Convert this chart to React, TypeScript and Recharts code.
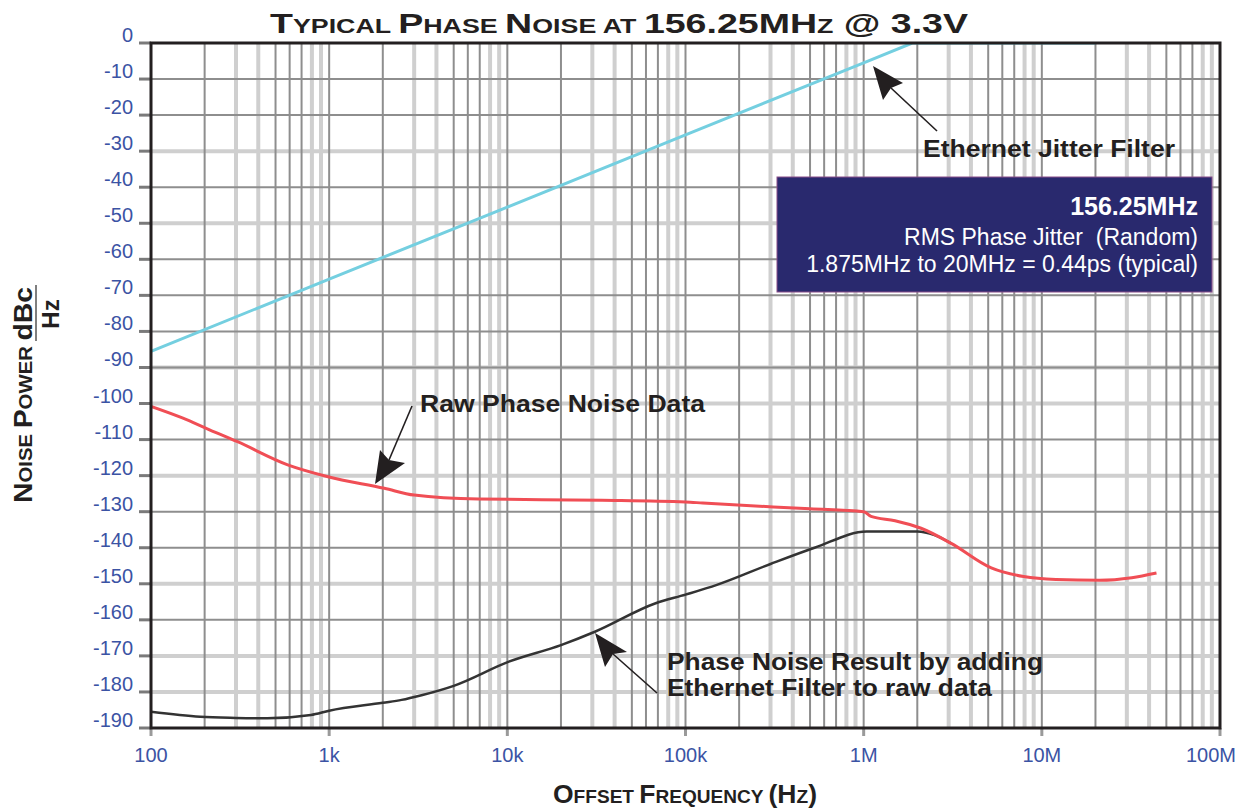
import React from 'react';
import { LineChart, Line, XAxis, YAxis, CartesianGrid } from 'recharts';

// axis ticks
const decadeFreqs = [100, 1000, 10000, 100000, 1000000, 10000000, 100000000];
const decadeLabels = ['100', '1k', '10k', '100k', '1M', '10M', '100M'];
const dbTicks = [0, -10, -20, -30, -40, -50, -60, -70, -80, -90, -100, -110, -120, -130, -140, -150, -160, -170, -180, -190];

// grid styling (dark thin lines vs. light wide lines)
const darkSteps = [1, 2, 5, 6, 7];
const lightSteps = [3, 4, 8, 9];
const darkDb = [-10, -20, -40, -60, -70, -80, -90, -110, -130, -140, -160];
const lightDb = [-30, -50, -90, -100, -120, -150, -170, -180];

// Ethernet jitter filter
const filterFreq = [100, 1000, 10000, 100000, 1000000, 1875000, 20000000];
const filterDb = [-85.5, -65.5, -45.5, -25.5, -5.5, 0, 0];

// raw phase noise
const rawFreq = [100, 150, 207, 306, 585, 986, 2040, 3000, 6900, 34000, 100000, 125000, 500000, 1000000, 1100000, 1500000, 2100000, 3100000, 5200000, 7900000, 12000000, 21000000, 32000000, 44000000];
const rawDb = [-100.8, -104, -107, -110.6, -117, -120.3, -123.5, -125.4, -126.5, -126.8, -127.3, -127.6, -129.2, -130, -131.3, -132.5, -134.6, -138.8, -145.6, -148, -148.8, -149, -148.3, -147];

// raw data + filter
const resultFreq = [100, 189, 300, 450, 790, 1000, 2000, 2550, 3300, 5000, 10200, 20000, 31000, 68000, 100000, 150000, 300000, 530000, 1040000, 2000000, 2500000, 3100000];
const resultDb = [-185.5, -186.9, -187.2, -187.3, -186.4, -185.2, -183, -182.2, -180.9, -178.3, -171.6, -167, -163.3, -155.4, -153, -150.3, -144.5, -140, -135.5, -135.5, -136.5, -138.8];

const toPoints = (fs: number[], ds: number[]) => fs.map((f, i) => ({ f, db: ds[i] }));
const filterData = toPoints(filterFreq, filterDb);
const rawData = toPoints(rawFreq, rawDb);
const resultData = toPoints(resultFreq, resultDb);

const gridFreqs = (steps: number[]) =>
  decadeFreqs.slice(0, -1).flatMap((d) => steps.map((s) => d * s)).concat(steps.includes(1) ? [100000000] : []);
const darkFreqs = gridFreqs(darkSteps);
const lightFreqs = gridFreqs(lightSteps);

const FONT = "'Liberation Sans', Arial, Helvetica, sans-serif";
const BLUE = '#3b53a4';
const INK = '#231f20';
const W = 1243;
const H = 812;

const YTick = (props: any) => {
  const { x, y, payload } = props;
  return (
    <text x={x} y={y - 1} textAnchor="end" fill={BLUE} fontSize={20} fontFamily={FONT}>
      {payload.value}
    </text>
  );
};

const XTick = (props: any) => {
  const { x, y, payload } = props;
  const i = decadeFreqs.indexOf(payload.value);
  const last = i === decadeFreqs.length - 1;
  return (
    <text x={last ? x + 16 : x} y={y + 22} textAnchor={last ? 'end' : 'middle'} fill={BLUE} fontSize={20} fontFamily={FONT}>
      {i >= 0 ? decadeLabels[i] : ''}
    </text>
  );
};

const Arrow = ({ tip, c1, c2, notch, tail }: { tip: number[]; c1: number[]; c2: number[]; notch: number[]; tail: number[] }) => (
  <g>
    <line x1={notch[0]} y1={notch[1]} x2={tail[0]} y2={tail[1]} stroke={INK} strokeWidth={1.6} />
    <polygon points={[tip, c1, notch, c2].map((p) => p.join(',')).join(' ')} fill={INK} />
  </g>
);

export default function App() {
  return (
    <div style={{ position: 'absolute', left: 0, top: 0, width: W, height: H, background: '#fff' }}>
      <LineChart width={W} height={H} margin={{ top: 43, right: 23, bottom: 54, left: 91 }}>
        <XAxis
          dataKey="f"
          type="number"
          scale="log"
          domain={[100, 100000000]}
          allowDataOverflow
          ticks={decadeFreqs}
          interval={0}
          height={30}
          axisLine={false}
          tickSize={8}
          tickMargin={4}
          tickLine={{ stroke: '#9a9a9a', strokeWidth: 3 }}
          tick={<XTick />}
        />
        <YAxis
          type="number"
          domain={[-190, 0]}
          allowDataOverflow
          ticks={dbTicks}
          interval={0}
          width={60}
          axisLine={false}
          tickSize={12}
          tickMargin={6}
          tickLine={{ stroke: '#7a7a7a', strokeWidth: 3 }}
          tick={<YTick />}
        />

        <CartesianGrid horizontal={false} verticalValues={lightFreqs} stroke="#cfcfcf" strokeWidth={4} />
        <CartesianGrid vertical={false} horizontalValues={lightDb} stroke="#cfcfcf" strokeWidth={4} />
        <CartesianGrid horizontal={false} verticalValues={darkFreqs} stroke="#8e8e8e" strokeWidth={2} />
        <CartesianGrid vertical={false} horizontalValues={darkDb} stroke="#8e8e8e" strokeWidth={2} />

        <Line data={filterData} dataKey="db" type="linear" stroke="#74cfe0" strokeWidth={3} dot={false} isAnimationActive={false} />
        <Line data={resultData} dataKey="db" type="monotone" stroke="#333333" strokeWidth={2.5} dot={false} isAnimationActive={false} />
        <Line data={rawData} dataKey="db" type="monotone" stroke="#f04e55" strokeWidth={3} dot={false} isAnimationActive={false} />
      </LineChart>

      <svg width={W} height={H} style={{ position: 'absolute', left: 0, top: 0, pointerEvents: 'none' }} fontFamily={FONT}>
        <rect x={151} y={43} width={1069} height={685} fill="none" stroke={INK} strokeWidth={3} />

        {/* title */}
        <text x={270} y={33} fill={INK} fontWeight="bold" fontSize={28} textLength={698} lengthAdjust="spacingAndGlyphs">
          <tspan>T</tspan><tspan fontSize={20}>YPICAL </tspan>
          <tspan>P</tspan><tspan fontSize={20}>HASE </tspan>
          <tspan>N</tspan><tspan fontSize={20}>OISE AT </tspan>
          <tspan>156.25MH</tspan><tspan fontSize={20}>Z</tspan>
          <tspan> @ 3.3V</tspan>
        </text>

        {/* x axis title */}
        <text x={553} y={803} fill={INK} fontWeight="bold" fontSize={25} textLength={264} lengthAdjust="spacingAndGlyphs">
          <tspan>O</tspan><tspan fontSize={18}>FFSET </tspan>
          <tspan>F</tspan><tspan fontSize={18}>REQUENCY </tspan>
          <tspan>(H</tspan><tspan fontSize={18}>Z</tspan><tspan>)</tspan>
        </text>

        {/* y axis title */}
        <text transform="translate(32,503) rotate(-90)" fill={INK} fontWeight="bold" fontSize={25} textLength={216} lengthAdjust="spacingAndGlyphs">
          <tspan>N</tspan><tspan fontSize={18}>OISE </tspan>
          <tspan>P</tspan><tspan fontSize={18}>OWER </tspan>
          <tspan>dBc</tspan>
        </text>
        <line x1={36} y1={285} x2={36} y2={341} stroke="#555" strokeWidth={1.5} />
        <text transform="translate(59,314) rotate(-90)" textAnchor="middle" fill={INK} fontWeight="bold" fontSize={24}>Hz</text>

        {/* annotations */}
        <text x={923} y={157} fill={INK} fontWeight="bold" fontSize={24} textLength={252} lengthAdjust="spacingAndGlyphs">Ethernet Jitter Filter</text>
        <Arrow tip={[873, 66]} c1={[883, 100]} c2={[903, 83]} notch={[891, 88]} tail={[937, 131]} />

        <text x={420} y={412} fill={INK} fontWeight="bold" fontSize={24} textLength={285} lengthAdjust="spacingAndGlyphs">Raw Phase Noise Data</text>
        <Arrow tip={[375, 484]} c1={[380, 450]} c2={[405, 463]} notch={[389, 460]} tail={[412, 406]} />

        <text x={667} y={670} fill={INK} fontWeight="bold" fontSize={24} textLength={376} lengthAdjust="spacingAndGlyphs">Phase Noise Result by adding</text>
        <text x={667} y={696} fill={INK} fontWeight="bold" fontSize={24} textLength={325} lengthAdjust="spacingAndGlyphs">Ethernet Filter to raw data</text>
        <Arrow tip={[595, 633]} c1={[605, 667]} c2={[627, 652]} notch={[613, 654]} tail={[657, 693]} />

        {/* jitter box */}
        <rect x={777} y={177} width={435} height={115} fill="#29296e" stroke="#8a4f8a" strokeWidth={1} />
        <text x={1198} y={215} textAnchor="end" fill="#fff" fontWeight="bold" fontSize={25}>156.25MHz</text>
        <text x={1198} y={245} textAnchor="end" fill="#fff" fontSize={23} style={{ whiteSpace: 'pre' }}>RMS Phase Jitter  (Random)</text>
        <text x={1198} y={272} textAnchor="end" fill="#fff" fontSize={23}>1.875MHz to 20MHz = 0.44ps (typical)</text>
      </svg>
    </div>
  );
}
